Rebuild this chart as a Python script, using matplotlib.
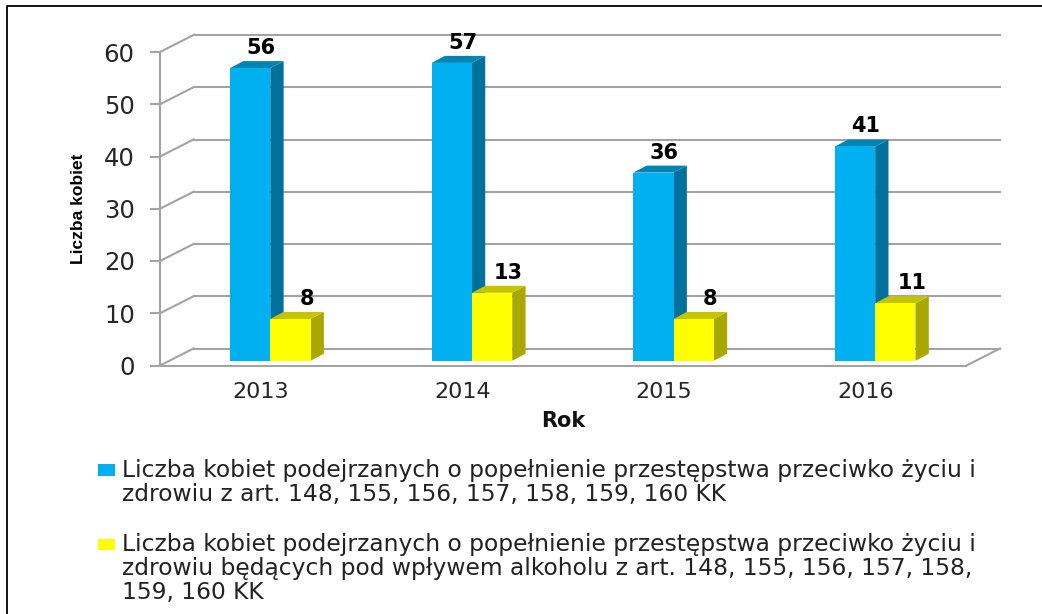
import matplotlib
matplotlib.use("Agg")
import matplotlib.pyplot as plt
from matplotlib.patches import Polygon, Rectangle
from matplotlib.lines import Line2D

years = ["2013", "2014", "2015", "2016"]
suspects = [56, 57, 36, 41]
alcohol = [8, 13, 8, 11]
y_ticks = [0, 10, 20, 30, 40, 50, 60]
legend_blue = ("Liczba kobiet podejrzanych o popełnienie przestępstwa przeciwko życiu i\n"
               "zdrowiu z art. 148, 155, 156, 157, 158, 159, 160 KK")
legend_yellow = ("Liczba kobiet podejrzanych o popełnienie przestępstwa przeciwko życiu i\n"
                 "zdrowiu będących pod wpływem alkoholu z art. 148, 155, 156, 157, 158,\n"
                 "159, 160 KK")

W, H = 1042, 614
fig = plt.figure(figsize=(W / 100, H / 100), dpi=100, facecolor="white")
ax = fig.add_axes([160 / W, 1 - 365.5 / H, 806.5 / W, 313.5 / H])
ax.set_xlim(-0.5, 3.5)
ax.set_ylim(0, 60)
ax.set_facecolor("none")

px_x = 806.5 / 4
px_y = 313.5 / 60
GRID = "#a3a3a3"

# floor and back wall
back_dx, back_dy = 33.5 / px_x, 17 / px_y
for v in y_ticks:
    ax.plot([-0.5, -0.5 + back_dx], [v, v + back_dy], color=GRID, lw=1.5, clip_on=False, zorder=1)
    ax.plot([-0.5 + back_dx, 3.5 + back_dx], [v + back_dy] * 2, color=GRID, lw=1.5, clip_on=False, zorder=1)
ax.plot([3.5, 3.5 + back_dx], [0, back_dy], color=GRID, lw=1.5, clip_on=False, zorder=1)

# bars with pseudo-3D faces
shift_x = 9.5 / px_x
base = 4.8 / px_y
bw = 40.3 / px_x
dep_x, dep_y = 13.3 / px_x, 7 / px_y


def bars(values, left_off, front, side, top, z, label_dx):
    for i, v in enumerate(values):
        x0 = i + shift_x + left_off
        x1 = x0 + bw
        yt = base + v
        ax.add_patch(Polygon([(x1, base), (x1, yt), (x1 + dep_x, yt + dep_y), (x1 + dep_x, base + dep_y)],
                             closed=True, fc=side, ec="none", clip_on=False, zorder=z))
        ax.add_patch(Polygon([(x0, yt), (x1, yt), (x1 + dep_x, yt + dep_y), (x0 + dep_x, yt + dep_y)],
                             closed=True, fc=top, ec="none", clip_on=False, zorder=z))
        ax.add_patch(Rectangle((x0, base), bw, v, fc=front, ec="none", clip_on=False, zorder=z + 0.1))
        ax.text((x0 + x1) / 2 + label_dx / px_x, yt + 20 / px_y, str(v), ha="center", va="center",
                fontsize=15, fontweight="bold", color="black", family="DejaVu Sans", zorder=5)


bars(suspects, -bw, "#00b0f0", "#00709c", "#0084b5", 2, 11)
bars(alcohol, 0, "#ffff00", "#a8a800", "#c4c400", 3, 16.5)

# axes
for s in ("top", "right"):
    ax.spines[s].set_visible(False)
for s in ("left", "bottom"):
    ax.spines[s].set_color(GRID)
    ax.spines[s].set_linewidth(1.5)
ax.set_yticks(y_ticks)
ax.set_xticks(range(len(years)), years)
ax.tick_params(axis="y", length=7.2, width=1.5, color=GRID, pad=11, labelsize=17.5, labelcolor="#262626")
ax.tick_params(axis="x", length=0, pad=12, labelsize=16, labelcolor="#262626")
ax.set_xlabel("Rok", fontsize=15, fontweight="bold", color="#111111")
ax.xaxis.set_label_coords(0.5, -(421 - 365.5) / 313.5, transform=ax.transAxes)
ax.xaxis.label.set_va("center")
ax.set_ylabel("Liczba kobiet", fontsize=12.5, fontweight="bold", family="Liberation Sans", color="black")
ax.yaxis.set_label_coords((78 - 160) / 806.5, 0.5)
ax.yaxis.label.set_va("center")

# legend
fig.add_artist(Rectangle((98 / W, 1 - 475.5 / H), 17 / W, 11.5 / H, fc="#00b0f0", ec="none", transform=fig.transFigure))
fig.add_artist(Rectangle((98 / W, 1 - 550 / H), 17 / W, 11.5 / H, fc="#ffff00", ec="none", transform=fig.transFigure))
fig.text(122 / W, 1 - 458.5 / H, legend_blue, ha="left", va="top", fontsize=16.85, color="#222222", linespacing=1.07)
fig.text(122 / W, 1 - 532.5 / H, legend_yellow, ha="left", va="top", fontsize=16.85, color="#222222", linespacing=1.07)

# frame
fig.add_artist(Line2D([6.5 / W, 6.5 / W, 1], [0, 1 - 5.5 / H, 1 - 5.5 / H], color="black", lw=1.3, transform=fig.transFigure))

fig.savefig("out.png", dpi=100, facecolor="white")
